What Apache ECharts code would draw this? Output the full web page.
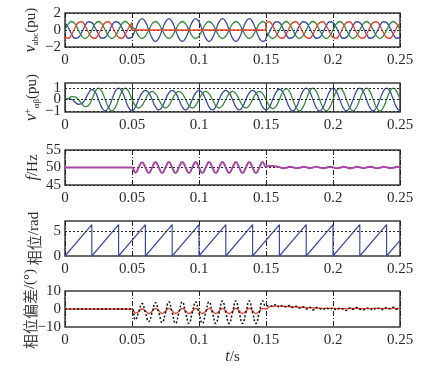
<!DOCTYPE html>
<html><head><meta charset="utf-8">
<script src="https://cdn.jsdelivr.net/npm/echarts@6/dist/echarts.min.js"></script>
<style>html,body{margin:0;padding:0;background:#fff}#c{width:429px;height:369px}</style>
</head><body><div id="c"></div>
<script>
// ---------- data ----------
const xTicks = [0, 0.05, 0.1, 0.15, 0.2, 0.25];
// time samples for panel 1 (0.05 s and 0.15 s repeated: switching instants)
const t1 = [0,0.0025,0.005,0.0075,0.01,0.0125,0.015,0.0175,0.02,0.0225,0.025,0.0275,0.03,0.0325,0.035,0.0375,0.04,0.0425,0.045,0.0475,0.05,
 0.05,0.0525,0.055,0.0575,0.06,0.0625,0.065,0.0675,0.07,0.0725,0.075,0.0775,0.08,0.0825,0.085,0.0875,0.09,0.0925,0.095,0.0975,0.1,0.1025,0.105,0.1075,0.11,0.1125,0.115,0.1175,0.12,0.1225,0.125,0.1275,0.13,0.1325,0.135,0.1375,0.14,0.1425,0.145,0.1475,0.15,
 0.15,0.1525,0.155,0.1575,0.16,0.1625,0.165,0.1675,0.17,0.1725,0.175,0.1775,0.18,0.1825,0.185,0.1875,0.19,0.1925,0.195,0.1975,0.2,0.2025,0.205,0.2075,0.21,0.2125,0.215,0.2175,0.22,0.2225,0.225,0.2275,0.23,0.2325,0.235,0.2375,0.24,0.2425,0.245,0.2475,0.25];
const vA = [0.87,0.26,-0.5,-0.97,-0.87,-0.26,0.5,0.97,0.87,0.26,-0.5,-0.97,-0.87,-0.26,0.5,0.97,0.87,0.26,-0.5,-0.97,-0.87,
 -0.95,0,0.95,1.35,0.95,0,-0.95,-1.35,-0.95,0,0.95,1.35,0.95,0,-0.95,-1.35,-0.95,0,0.95,1.35,0.95,0,-0.95,-1.35,-0.95,0,0.95,1.35,0.95,0,-0.95,-1.35,-0.95,0,0.95,1.35,0.95,0,-0.95,-1.35,-0.95,
 -0.87,-0.26,0.5,0.97,0.87,0.26,-0.5,-0.97,-0.87,-0.26,0.5,0.97,0.87,0.26,-0.5,-0.97,-0.87,-0.26,0.5,0.97,0.87,0.26,-0.5,-0.97,-0.87,-0.26,0.5,0.97,0.87,0.26,-0.5,-0.97,-0.87,-0.26,0.5,0.97,0.87,0.26,-0.5,-0.97,-0.87];
const vB = [0,0.71,1,0.71,0,-0.71,-1,-0.71,0,0.71,1,0.71,0,-0.71,-1,-0.71,0,0.71,1,0.71,0,
 0.4,0,-0.71,-1,-0.71,0,0.71,1,0.71,0,-0.71,-1,-0.71,0,0.71,1,0.71,0,-0.71,-1,-0.71,0,0.71,1,0.71,0,-0.71,-1,-0.71,0,0.71,1,0.71,0,-0.71,-1,-0.71,0,0.71,1,0.4,
 0,-0.71,-1,-0.71,0,0.71,1,0.71,0,-0.71,-1,-0.71,0,0.71,1,0.71,0,-0.71,-1,-0.71,0,0.71,1,0.71,0,-0.71,-1,-0.71,0,0.71,1,0.71,0,-0.71,-1,-0.71,0,0.71,1,0.71,0];
const vC = [-0.87,-0.97,-0.5,0.26,0.87,0.97,0.5,-0.26,-0.87,-0.97,-0.5,0.26,0.87,0.97,0.5,-0.26,-0.87,-0.97,-0.5,0.26,0.87,
 0,0,0,0,0,0,0,0,0,0,0,0,0,0,0,0,0,0,0,0,0,0,0,0,0,0,0,0,0,0,0,0,0,0,0,0,0,0,0,0,0,
 0.87,0.97,0.5,-0.26,-0.87,-0.97,-0.5,0.26,0.87,0.97,0.5,-0.26,-0.87,-0.97,-0.5,0.26,0.87,0.97,0.5,-0.26,-0.87,-0.97,-0.5,0.26,0.87,0.97,0.5,-0.26,-0.87,-0.97,-0.5,0.26,0.87,0.97,0.5,-0.26,-0.87,-0.97,-0.5,0.26,0.87];
// uniform time samples for panels 2,3,5
const t2 = [0,0.0025,0.005,0.0075,0.01,0.0125,0.015,0.0175,0.02,0.0225,
 0.025,0.0275,0.03,0.0325,0.035,0.0375,0.04,0.0425,0.045,0.0475,
 0.05,0.0525,0.055,0.0575,0.06,0.0625,0.065,0.0675,0.07,0.0725,
 0.075,0.0775,0.08,0.0825,0.085,0.0875,0.09,0.0925,0.095,0.0975,
 0.1,0.1025,0.105,0.1075,0.11,0.1125,0.115,0.1175,0.12,0.1225,
 0.125,0.1275,0.13,0.1325,0.135,0.1375,0.14,0.1425,0.145,0.1475,
 0.15,0.1525,0.155,0.1575,0.16,0.1625,0.165,0.1675,0.17,0.1725,
 0.175,0.1775,0.18,0.1825,0.185,0.1875,0.19,0.1925,0.195,0.1975,
 0.2,0.2025,0.205,0.2075,0.21,0.2125,0.215,0.2175,0.22,0.2225,
 0.225,0.2275,0.23,0.2325,0.235,0.2375,0.24,0.2425,0.245,0.2475,
 0.25];
const vAlpha = [0,0.07,0,-0.23,-0.42,-0.35,0,0.53,0.88,0.67,
 0,-0.71,-1,-0.71,0,0.71,1,0.71,0,-0.71,
 -1,
 -0.65,0,0.57,0.8,0.57,0,-0.65,-0.92,
 -0.65,0,0.57,0.8,0.57,0,-0.65,-0.92,
 -0.65,0,0.57,0.8,0.57,0,-0.65,-0.92,
 -0.65,0,0.57,0.8,0.57,0,-0.65,-0.92,
 -0.65,0,0.57,0.8,0.57,0,-0.65,-0.92,
 -0.68,0,0.62,0.9,0.66,0,-0.7,-1,
 -0.71,0,0.71,1,0.71,0,-0.71,-1,
 -0.71,0,0.71,1,0.71,0,-0.71,-1,
 -0.71,0,0.71,1,0.71,0,-0.71,-1,
 -0.71,0,0.71,1,0.71,0,-0.71,-1];
const vBeta = [0,0.07,0.25,0.23,0,-0.35,-0.62,-0.53,0,0.67,
 1,0.71,0,-0.71,-1,-0.71,0,0.71,1,0.71,
 0,
 -0.53,-0.75,-0.53,0,0.51,0.72,0.51,0,
 -0.53,-0.75,-0.53,0,0.51,0.72,0.51,0,
 -0.53,-0.75,-0.53,0,0.51,0.72,0.51,0,
 -0.53,-0.75,-0.53,0,0.51,0.72,0.51,0,
 -0.53,-0.75,-0.53,0,0.51,0.72,0.51,0,
 -0.55,-0.8,-0.6,0,0.66,0.95,0.7,0,
 -0.71,-1,-0.71,0,0.71,1,0.71,0,
 -0.71,-1,-0.71,0,0.71,1,0.71,0,
 -0.71,-1,-0.71,0,0.71,1,0.71,0,
 -0.71,-1,-0.71,0,0.71,1,0.71,0];
const freq = [50,50,50,50,50,50,50,50,50,50,50,50,50,50,50,50,50,50,50,50,50,
 48.5,50,51.5,50, 48.4,50,51.6,50, 48.4,50,51.6,50, 48.4,50,51.6,50, 48.4,50,51.6,50,
 48.4,50,51.6,50, 48.4,50,51.6,50, 48.4,50,51.6,50, 48.4,50,51.6,50, 48.4,50,51.6,50.3,
 50.4,50.4,50.3,50.1, 49.8,49.9,50.2,50.1, 49.8,49.9,50.2,50.1, 49.8,50,50.2,50, 49.8,49.9,50.25,50.05,
 49.8,49.9,50.2,50.1, 49.75,49.9,50.2,50.1, 49.8,50,50.25,50.05, 49.8,49.9,50.2,50.1, 49.8,49.9,50.2,50];
const phT = [0,0.02,0.02,0.04,0.04,0.06,0.06,0.08,0.08,0.1,0.1,0.12,0.12,0.14,0.14,0.16,0.16,0.18,0.18,0.2,0.2,0.22,0.22,0.24,0.24,0.25];
const phV = [0,6.28,0,6.28,0,6.28,0,6.28,0,6.28,0,6.28,0,6.28,0,6.28,0,6.28,0,6.28,0,6.28,0,6.28,0,3.14];
const errBlack = [0,0,0,0,0,0,0,0,0,0,0,0,0,0,0,0,0,0,0,0,0,
 -6,-1.5,3,-2, -7,-2,3.5,-2, -7.5,-2,4,-2, -8,-2,4,-2, -8,-2,4,-2,
 -8,-2,4,-2, -8,-2,4.5,-2, -8,-2,4.5,-2, -8,-2,4.5,-2, -8,-2,4.5,1.5,
 2,1.5,2.5,1,2, 1.2,2,0.8,1.5,0.5, 1.2,0,1,-0.5,0.8, 0.2,-0.3,0.6,-0.2,0.5,
 -0.5,0.4,0,-0.8,0.6, -0.2,0.8,0,-0.5,0.5, 0.2,-0.6,0.7,0,-0.3, 0.8,0.2,1,-0.2,0.3];
const errRed = [0,0,0,0,0,0,0,0,0,0,0,0,0,0,0,0,0,0,0,0,0,
 -2.2,-1.5,0,-1, -2.5,-1.2,0.3,-1, -2.5,-1.2,0.3,-1, -2.5,-1.2,0.3,-1, -2.5,-1.2,0.3,-1,
 -2.5,-1.2,0.3,-1, -2.5,-1.2,0.3,-1, -2.5,-1.2,0.3,-1, -2.5,-1.2,0.3,-1, -2.5,-1.2,0.3,0,
 1.2,1.5,1.6,1.6,1.5, 1.4,1.3,1.2,1.1,1.0, 0.9,0.8,0.7,0.6,0.5, 0.45,0.4,0.35,0.3,0.3,
 0.25,0.2,0.2,0.2,0.25, 0.3,0.3,0.25,0.2,0.2, 0.25,0.3,0.3,0.3,0.25, 0.2,0.25,0.3,0.3,0.3];
const yTicksAlphaBeta = [-1, 0, 1];
const yTicksPhase = [0, 5];

// ---------- chart ----------
const SERIF = 'Liberation Serif', CJK = 'Noto Sans CJK SC', TXT = '#2a2a2a';
const BLUE = '#3a4aa8', GREEN = '#2f8a3c', RED = '#e8402c', PURPLE = '#a646a6';
const pair = (t, v) => t.map((x, i) => [x, v[i]]);
const boxes = [[13,34],[83,29],[150,35],[221,35],[291,36]];
const minus = v => (v < 0 ? '\u2212' + (-v) : String(v));
const rich = {
  i: {fontFamily: SERIF, fontStyle: 'italic', fontSize: 16, color: TXT},
  n: {fontFamily: SERIF, fontSize: 15, color: TXT},
  sb: {fontFamily: SERIF, fontSize: 9, color: TXT, verticalAlign: 'bottom', lineHeight: 18},
  sp: {fontFamily: SERIF, fontSize: 10, color: TXT, verticalAlign: 'top', lineHeight: 18},
  c: {fontFamily: CJK, fontSize: 15, color: '#444'}
};
const dashDot = {color: '#222', width: 1, type: [5, 2, 1, 2]};
const dotted = {color: '#222', width: 1, type: [2, 2]};

const grids = boxes.map(([top, h]) => ({left: 65, width: 335, top, height: h, show: true,
  borderColor: '#3a3a3a', borderWidth: 1.5, backgroundColor: 'transparent', containLabel: false, outerBoundsMode: 'none'}));

const xAxes = boxes.map((b, i) => ({
  type: 'value', gridIndex: i, min: xTicks[0], max: xTicks[xTicks.length - 1], interval: 0.05,
  axisLine: {show: false}, axisTick: {show: false},
  axisLabel: {margin: 6, fontFamily: SERIF, fontSize: 15, color: TXT,
    formatter: v => String(Math.round(v * 100) / 100)},
  splitLine: {show: true, lineStyle: i === 1 ? {color: '#333', width: 1, type: 'solid'} : dashDot}
}));
xAxes[4].name = '{i|t}{n|/s}';
xAxes[4].nameLocation = 'middle';
xAxes[4].nameGap = 20;
xAxes[4].nameTextStyle = {rich, lineHeight: 16};

const lbl = extra => Object.assign({margin: 4, fontFamily: SERIF, fontSize: 15, lineHeight: 11, color: TXT,
  formatter: minus, hideOverlap: false, showMinLabel: true, showMaxLabel: true}, extra || {});
const yBase = (i, o) => Object.assign({
  type: 'value', gridIndex: i, axisLine: {show: false}, axisTick: {show: false},
  nameLocation: 'middle', nameRotate: 90, nameMoveOverlap: false,
  axisLabel: lbl(),
  splitLine: {show: false}
}, o);
// keep only exact tick values for the non-uniform range of panel 2
const pick = ticks => v => (ticks.some(t => Math.abs(t - v) < 1e-6) ? minus(Math.round(v)) : '');
const yAxes = [
  yBase(0, {min: -2, max: 2, interval: 2, name: '{i|v}{sb|abc}{n|(pu)}', nameGap: 25,
    nameTextStyle: {rich, lineHeight: 18}, splitLine: {show: true, lineStyle: dotted}}),
  yBase(1, {min: -1.1, max: 1.45, interval: 0.05, name: '{i|v}{sp|+}{sb|αβ}{n|(pu)}', nameGap: 24,
    nameTextStyle: {rich, lineHeight: 18},
    axisLabel: lbl({formatter: pick(yTicksAlphaBeta)})}),
  yBase(2, {min: 45, max: 55, interval: 5, name: '{i|f}{n|/Hz}', nameGap: 23,
    nameTextStyle: {rich, lineHeight: 18}, splitLine: {show: true, lineStyle: dotted}}),
  yBase(3, {min: 0, max: 7, interval: 1, name: '{c|相位}{n|/rad}', nameGap: 22,
    nameTextStyle: {rich, lineHeight: 18},
    axisLabel: lbl({formatter: pick(yTicksPhase)})}),
  yBase(4, {min: -10, max: 10, interval: 10, name: '{c|相位偏差}{n|/(°)}', nameGap: 26,
    nameTextStyle: {rich, lineHeight: 18}})
];

const line = (xi, data, color, extra) => Object.assign({
  type: 'line', xAxisIndex: xi, yAxisIndex: xi, data, symbol: 'none', showSymbol: false,
  smooth: 0.5, animation: false, silent: true,
  lineStyle: {color, width: 1.3}
}, extra || {});
const hLines = vals => ({silent: true, symbol: ['none', 'none'], label: {show: false}, animation: false,
  lineStyle: dotted, data: vals.map(v => ({yAxis: v}))});

const series = [
  line(0, pair(t1, vA), BLUE),
  line(0, pair(t1, vB), GREEN),
  line(0, pair(t1, vC), RED),
  line(1, pair(t2, vAlpha), BLUE, {markLine: hLines(yTicksAlphaBeta)}),
  line(1, pair(t2, vBeta), GREEN),
  line(2, pair(t2, freq), PURPLE, {lineStyle: {color: PURPLE, width: 2}}),
  line(3, pair(phT, phV), BLUE, {smooth: false, lineStyle: {color: BLUE, width: 1.2}, markLine: hLines([5])}),
  line(4, pair(t2, errRed), RED, {lineStyle: {color: RED, width: 1.3}}),
  line(4, pair(t2, errBlack), '#111', {lineStyle: {color: '#111', width: 1.5, type: [2, 2]}})
];

const chart = echarts.init(document.getElementById('c'), null, {renderer: 'canvas'});
chart.setOption({animation: false, backgroundColor: '#fff', grid: grids, xAxis: xAxes, yAxis: yAxes, series});
</script></body></html>
